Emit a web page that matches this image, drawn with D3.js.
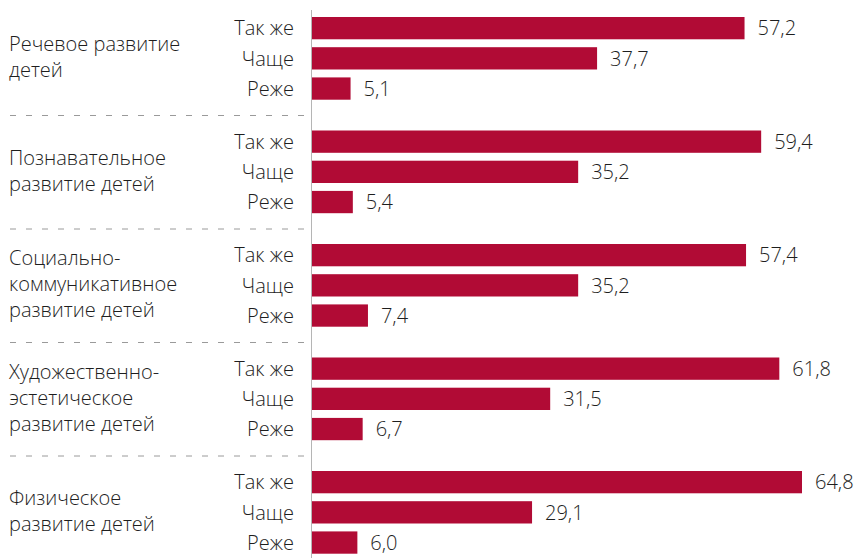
<!DOCTYPE html>
<html><head><meta charset="utf-8">
<script src="https://cdn.jsdelivr.net/npm/d3@7"></script>
<style>
body{margin:0;background:#fff;}
text{font-family:"Open Sans","Liberation Sans",sans-serif;font-weight:300;fill:#1e1e1e;}
</style></head><body>
<svg id="c" width="859" height="558"></svg>
<script>
const categories = [
  ["Речевое развитие","детей"],
  ["Познавательное","развитие детей"],
  ["Социально-","коммуникативное","развитие детей"],
  ["Художественно-","эстетическое","развитие детей"],
  ["Физическое","развитие детей"]
];
const answers = ["Так же","Чаще","Реже"];
const same = [57.2, 59.4, 57.4, 61.8, 64.8];
const more = [37.7, 35.2, 35.2, 31.5, 29.1];
const less = [5.1, 5.4, 7.4, 6.7, 6.0];
const series = [same, more, less];

const svg = d3.select("#c");
const x0 = 312;
const x = d3.scaleLinear().domain([0, 64.8]).range([x0, 802]);
const groupY = d3.scaleBand().domain(d3.range(categories.length)).range([2, 569.5]).paddingInner(0).paddingOuter(0);
const rowY = d3.scaleBand().domain(answers).range([15, 97.7]).paddingInner(0.262).paddingOuter(0);

const color = "#b10b35";
const fs = 20;

categories.forEach((lines, gi) => {
  const gy = groupY(gi) ;
  const g = svg.append("g").attr("transform", `translate(0,${gy})`);
  answers.forEach((a, ri) => {
    const v = series[ri][gi];
    const y = rowY(a);
    const h = rowY.bandwidth();
    g.append("rect").attr("x", x0).attr("y", y).attr("width", x(v) - x0).attr("height", h).attr("fill", color);
    g.append("text").attr("x", 294).attr("y", y + h/2).attr("dy", "0.36em").attr("text-anchor", "end").attr("font-size", fs).text(a);
    g.append("text").attr("x", x(v) + 13).attr("y", y + h/2).attr("dy", "0.36em").attr("font-size", fs).text(String(v.toFixed(1)).replace(".", ","));
  });
  const cy = 55;
  const lh = 26;
  lines.forEach((l, li) => {
    g.append("text").attr("x", 9).attr("y", cy + (li - (lines.length - 1)/2) * lh).attr("dy", "0.36em").attr("font-size", fs).text(l);
  });
  if (gi < categories.length - 1) {
    g.append("line").attr("x1", 10).attr("x2", 306).attr("y1", 113.5).attr("y2", 113.5)
      .attr("stroke", "#9a9a9a").attr("stroke-width", 1).attr("stroke-dasharray", "6,10");
  }
});
svg.append("line").attr("x1", 311.5).attr("x2", 311.5).attr("y1", 10).attr("y2", 558).attr("stroke", "#b5b5b5").attr("stroke-width", 1);
</script></body></html>
